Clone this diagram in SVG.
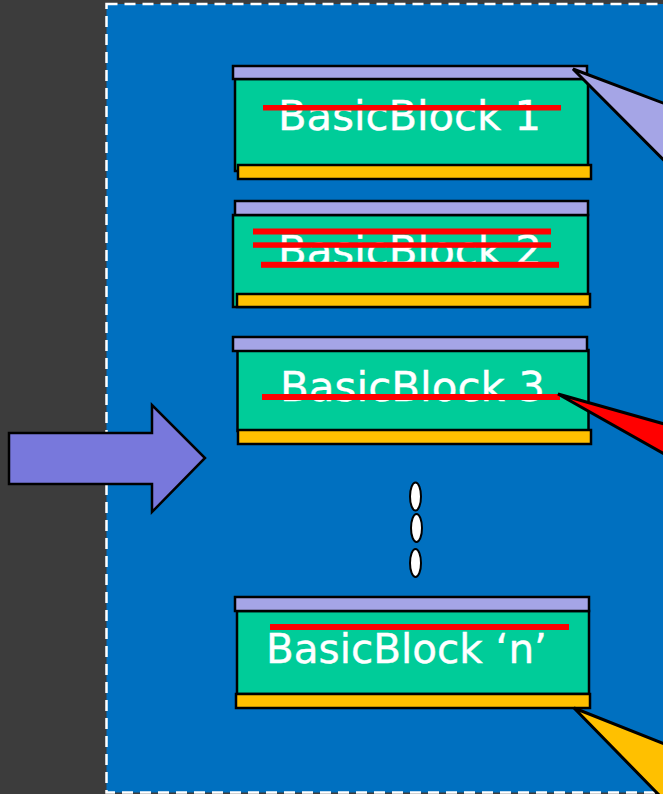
<svg xmlns="http://www.w3.org/2000/svg" width="663" height="794" viewBox="0 0 663 794">
  <defs>
    <style>
      .bar-top { fill: #A5A5E6; stroke: #000; stroke-width: 2.5; }
      .body { fill: #00CC99; stroke: #000; stroke-width: 2.5; }
      .bar-bottom { fill: #FFC000; stroke: #000; stroke-width: 2.5; }
      .label { fill: #FFFFFF; font-family: "DejaVu Sans", "Liberation Sans", sans-serif; font-size: 41px; stroke: #FFFFFF; stroke-width: 0.4; }
      .strike { fill: #FF0000; }
      .dot { fill: #FFFFFF; stroke: #000; stroke-width: 2; }
      .frame { fill: #0070C0; stroke: #FFFFFF; stroke-width: 2.5; stroke-dasharray: 11 7; }
    </style>
  </defs>

  <!-- backdrop and dashed panel -->
  <rect x="0" y="0" width="663" height="794" fill="#3C3C3C"/>
  <rect class="frame" x="106.5" y="4" width="600" height="788.5"/>

  <!-- block 1 -->
  <g id="block1">
    <rect class="body" x="235" y="79" width="353" height="92"/>
    <rect class="bar-top" x="233" y="66" width="354" height="13"/>
    <rect class="bar-bottom" x="238" y="165" width="353" height="14"/>
    <text class="label" x="278" y="130" textLength="263" lengthAdjust="spacingAndGlyphs">BasicBlock 1</text>
    <rect class="strike" x="263" y="105" width="298" height="5.5"/>
  </g>

  <!-- block 2 -->
  <g id="block2">
    <rect class="body" x="233" y="215" width="355" height="92"/>
    <rect class="bar-top" x="235" y="201" width="353" height="14"/>
    <rect class="bar-bottom" x="237" y="294" width="353" height="13"/>
    <text class="label" x="278" y="265" textLength="264" lengthAdjust="spacingAndGlyphs">BasicBlock 2</text>
    <rect class="strike" x="253" y="228.5" width="298" height="6"/>
    <rect class="strike" x="253" y="242.3" width="298" height="5.5"/>
    <rect class="strike" x="261" y="261.8" width="298" height="6"/>
  </g>

  <!-- block 3 -->
  <g id="block3">
    <rect class="body" x="237.5" y="350" width="351" height="81"/>
    <rect class="bar-top" x="233" y="337" width="354" height="14"/>
    <rect class="bar-bottom" x="238" y="430" width="353" height="14"/>
    <text class="label" x="280" y="401" textLength="265" lengthAdjust="spacingAndGlyphs">BasicBlock 3</text>
    <rect class="strike" x="262" y="394" width="298" height="6"/>
  </g>

  <!-- continuation dots -->
  <g id="ellipsis">
    <ellipse class="dot" cx="415.5" cy="496.5" rx="5.5" ry="14"/>
    <ellipse class="dot" cx="416.5" cy="528" rx="5.5" ry="14"/>
    <ellipse class="dot" cx="415.5" cy="563" rx="5.5" ry="14"/>
  </g>

  <!-- block n -->
  <g id="blockN">
    <rect class="body" x="237" y="611" width="352" height="83"/>
    <rect class="bar-top" x="235" y="597" width="354" height="14"/>
    <rect class="bar-bottom" x="236" y="694" width="354" height="14"/>
    <text class="label" x="266" y="662.5" textLength="281" lengthAdjust="spacingAndGlyphs">BasicBlock ‘n’</text>
    <rect class="strike" x="270" y="624" width="299" height="6"/>
  </g>

  <!-- big input arrow -->
  <g id="input-arrow">
    <polygon points="9,433 152,433 152,405 205,458 152,512 152,484 9,484" fill="#7878DC" stroke="#000" stroke-width="2.5" stroke-linejoin="miter"/>
  </g>

  <!-- callout pointers leaving the panel -->
  <g id="connectors" stroke="#000" stroke-width="3" stroke-linejoin="miter">
    <polygon points="573,69 700,117 700,196.5" fill="#A5A5E6"/>
    <polygon points="558,394 700,434 700,474" fill="#FF0000"/>
    <polygon points="574,708 700,758 700,837" fill="#FFC000"/>
  </g>
</svg>
